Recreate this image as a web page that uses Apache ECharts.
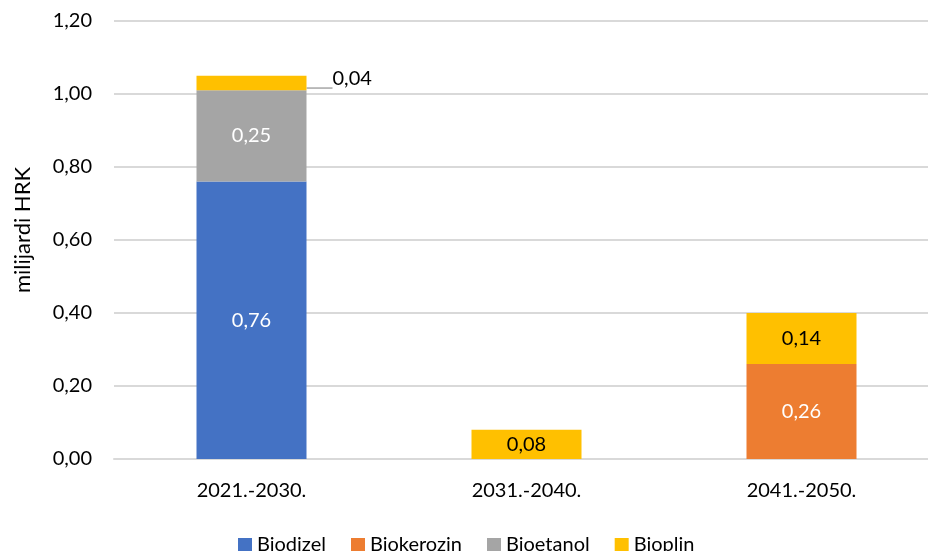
<!DOCTYPE html>
<html><head><meta charset="utf-8">
<script src="https://cdn.jsdelivr.net/npm/echarts@6/dist/echarts.min.js"></script>
<style>html,body{margin:0;padding:0;background:#fff;overflow:hidden;width:928px;height:551px}#c{width:940px;height:551px}</style>
</head><body><div id="c"></div>
<script>
const categories = ['2021.-2030.', '2031.-2040.', '2041.-2050.'];
const biodizel = [0.76, null, null];
const biokerozin = [null, null, 0.26];
const bioetanol = [0.25, null, null];
const bioplin = [0.04, 0.08, 0.14];
const yTicks = [0, 0.2, 0.4, 0.6, 0.8, 1.0, 1.2];
const legendNames = ['Biodizel', 'Biokerozin', 'Bioetanol', 'Bioplin'];

const FONT = 'Lato';
const FS = 20;
const fmt = v => Number(v).toFixed(2).replace('.', ',');
function mk(name, data, color, txtColor) {
  return {
    name, type: 'bar', stack: 's', data, barWidth: 110,
    itemStyle: { color },
    label: { show: true, position: 'inside', color: txtColor, fontFamily: FONT, fontSize: FS,
      formatter: p => p.value == null ? '' : fmt(p.value) }
  };
}
const sBioplin = mk('Bioplin', bioplin.map((v, i) => i === 0 ? {
  value: v,
  label: { position: 'right', distance: 26, offset: [0, -5], color: '#000' },
  labelLine: { show: true, lineStyle: { color: '#a6a6a6', width: 1.5 } }
} : v), '#ffc000', '#000');

const chart = echarts.init(document.getElementById('c'));
chart.setOption({
  animation: false,
  textStyle: { fontFamily: FONT },
  grid: { left: 114, right: 1, top: 21, bottom: 92 },
  legend: {
    top: 530, left: 233, itemWidth: 14, itemHeight: 14, itemGap: 25, icon: 'rect',
    textStyle: { fontFamily: FONT, fontSize: FS, color: '#000' },
    data: legendNames
  },
  xAxis: {
    type: 'category', data: categories,
    axisLine: { lineStyle: { color: '#d9d9d9', width: 2 } },
    axisTick: { show: false },
    axisLabel: { color: '#000', fontSize: FS, fontFamily: FONT, margin: 22 }
  },
  yAxis: {
    type: 'value', min: yTicks[0], max: yTicks[yTicks.length - 1], interval: 0.2,
    name: 'milijardi HRK', nameLocation: 'middle', nameGap: 80, nameRotate: 90,
    nameTextStyle: { color: '#000', fontSize: 22, fontFamily: FONT, padding: [0, 0, 0, 20] },
    axisLabel: { color: '#000', fontSize: FS, fontFamily: FONT, margin: 22, formatter: fmt },
    splitLine: { lineStyle: { color: '#d9d9d9', width: 2 } }
  },
  series: [
    mk('Biodizel', biodizel, '#4472c4', '#fff'),
    mk('Biokerozin', biokerozin, '#ed7d31', '#fff'),
    mk('Bioetanol', bioetanol, '#a5a5a5', '#fff'),
    sBioplin
  ]
});
</script></body></html>
